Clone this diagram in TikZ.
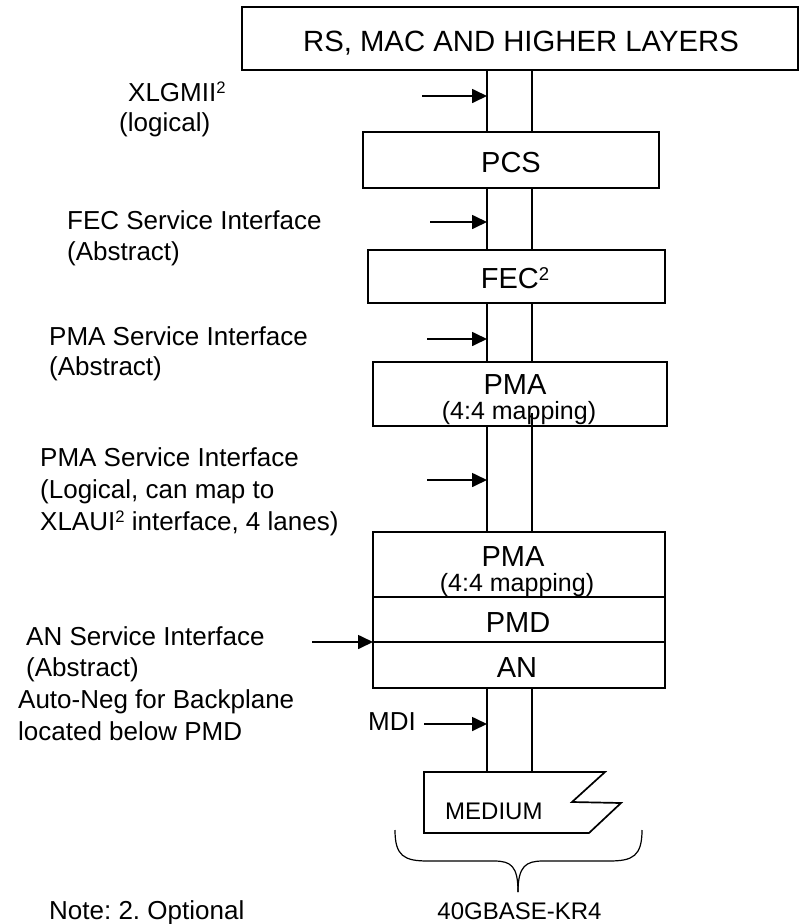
\documentclass[tikz,border=0pt]{standalone}
\usepackage{fontspec}
\setmainfont{Liberation Sans}
\usetikzlibrary{arrows.meta}
\newcommand\supr[1]{\raisebox{0.27em}{\scalebox{0.64}{#1}}}
\frenchspacing
\begin{document}
\begin{tikzpicture}[x=1pt,y=-1pt,
  box/.style={draw,line width=1.7pt,inner sep=0pt},
  lbl/.style={inner sep=0pt,anchor=base},
  side/.style={inner sep=0pt,anchor=base west,font=\fontsize{26}{31}\selectfont},
  big/.style={font=\fontsize{29}{32}\selectfont},
  small/.style={font=\fontsize{25}{28}\selectfont},
  med/.style={font=\fontsize{24}{28}\selectfont},
  pipe/.style={line width=1.7pt},
  arr/.style={line width=1.7pt,-{Triangle[length=15pt,width=14pt]}}]
\useasboundingbox (0,0) rectangle (800,924);
\fill[white] (0,0) rectangle (800,924);

% boxes
\node[box,minimum width=556pt,minimum height=63pt] (rs) at (520,38.5) {};
\node[box,minimum width=296pt,minimum height=56pt] (pcs) at (511,160) {};
\node[box,minimum width=297pt,minimum height=53pt] (fec) at (516.5,276.5) {};
\node[box,minimum width=294pt,minimum height=64pt] (pma1) at (520,394) {};
\node[box,minimum width=292pt,minimum height=65pt] (pma2) at (519,564.5) {};
\node[box,minimum width=292pt,minimum height=45pt] (pmd) at (519,619.5) {};
\node[box,minimum width=292pt,minimum height=46pt] (an) at (519,665) {};

% box texts
\node[lbl,font=\fontsize{29.3}{32}\selectfont] (rst) at (521,51) {RS, MAC AND HIGHER LAYERS};
\node[lbl,big] (pcst) at (511,172) {PCS};
\node[lbl,big] (fect) at (515,288) {FEC\supr{2}};
\node[lbl,big] (pma1t) at (515,394) {PMA};
\node[lbl,small] (pma1m) at (519,419) {(4:4 mapping)};
\node[lbl,big] (pma2t) at (513,566) {PMA};
\node[lbl,small] (pma2m) at (517,591) {(4:4 mapping)};
\node[lbl,big] (pmdt) at (518,632) {PMD};
\node[lbl,big] (ant) at (517,677) {AN};

% pipe
\coordinate (pl) at (487,0);
\coordinate (pr) at (532,0);
\coordinate (prx) at (532,413);
\coordinate (m1) at (424,772);
\draw[pipe] (rs.south -| pl) -- (pcs.north -| pl);
\draw[pipe] (rs.south -| pr) -- (pcs.north -| pr);
\draw[pipe] (pcs.south -| pl) -- (fec.north -| pl);
\draw[pipe] (pcs.south -| pr) -- (fec.north -| pr);
\draw[pipe] (fec.south -| pl) -- (pma1.north -| pl);
\draw[pipe] (fec.south -| pr) -- (pma1.north -| pr);
\draw[pipe] (pma1.south -| pl) -- (pma2.north -| pl);
\draw[pipe] (prx) -- (pma2.north -| pr);
\draw[pipe] (an.south -| pl) -- (m1 -| pl);
\draw[pipe] (an.south -| pr) -- (m1 -| pr);

% medium
\draw[line width=1.7pt,line join=miter] (m1) -- (605,772) -- (572,802) -- (621,803) -- (589,833) -- (424,833) -- cycle;
\node[inner sep=0pt,anchor=base west,med] (medt) at (445,819) {MEDIUM};

% brace
\draw[line width=1.2pt] (395,830) .. controls (395,856) and (404,861) .. (428,861) -- (494,861)
  .. controls (511,861) and (518,866) .. (518,892);
\draw[line width=1.2pt] (642,830) .. controls (642,856) and (633,861) .. (609,861) -- (543,861)
  .. controls (526,861) and (518,866) .. (518,892);
\node[lbl,med] (kr4) at (519.5,919) {40GBASE-KR4};

% arrows
\coordinate (a1s) at (422,96);  \coordinate (a1e) at (487,96);
\coordinate (a2s) at (430,222); \coordinate (a2e) at (487,222);
\coordinate (a3s) at (427,339); \coordinate (a3e) at (487,339);
\coordinate (a4s) at (427,480); \coordinate (a4e) at (487,480);
\coordinate (a5s) at (312,642); \coordinate (a5e) at (373,642);
\coordinate (a6s) at (424,724); \coordinate (a6e) at (487,724);
\draw[arr] (a1s) -- (a1e);
\draw[arr] (a2s) -- (a2e);
\draw[arr] (a3s) -- (a3e);
\draw[arr] (a4s) -- (a4e);
\draw[arr] (a5s) -- (a5e);
\draw[arr] (a6s) -- (a6e);

% side labels
\node[side,font=\fontsize{26}{30}\selectfont] (xlg) at (119,101)
  {\begin{tabular}[t]{@{}l@{}}\hspace*{9pt}XLGMII\supr{2}\\(logical)\end{tabular}};
\node[side] (fecsi) at (67,229)
  {\begin{tabular}[t]{@{}l@{}}FEC Service Interface\\(Abstract)\end{tabular}};
\node[side,font=\fontsize{26}{30}\selectfont] (pmasi) at (49,345)
  {\begin{tabular}[t]{@{}l@{}}PMA Service Interface\\(Abstract)\end{tabular}};
\node[side,font=\fontsize{26}{32}\selectfont] (pmasi2) at (40,466)
  {\begin{tabular}[t]{@{}l@{}}PMA Service Interface\\(Logical, can map to\\XLAUI\supr{2} interface, 4 lanes)\end{tabular}};
\node[side,font=\fontsize{26}{31.7}\selectfont] (ansi) at (18,645)
  {\begin{tabular}[t]{@{}l@{}}\hspace*{8pt}AN Service Interface\\\hspace*{8pt}(Abstract)\\Auto-Neg for Backplane\\located below PMD\end{tabular}};
\node[side] (mdi) at (368,730) {MDI};
\node[side] (note) at (49,919) {Note: 2. Optional};
\end{tikzpicture}
\end{document}
